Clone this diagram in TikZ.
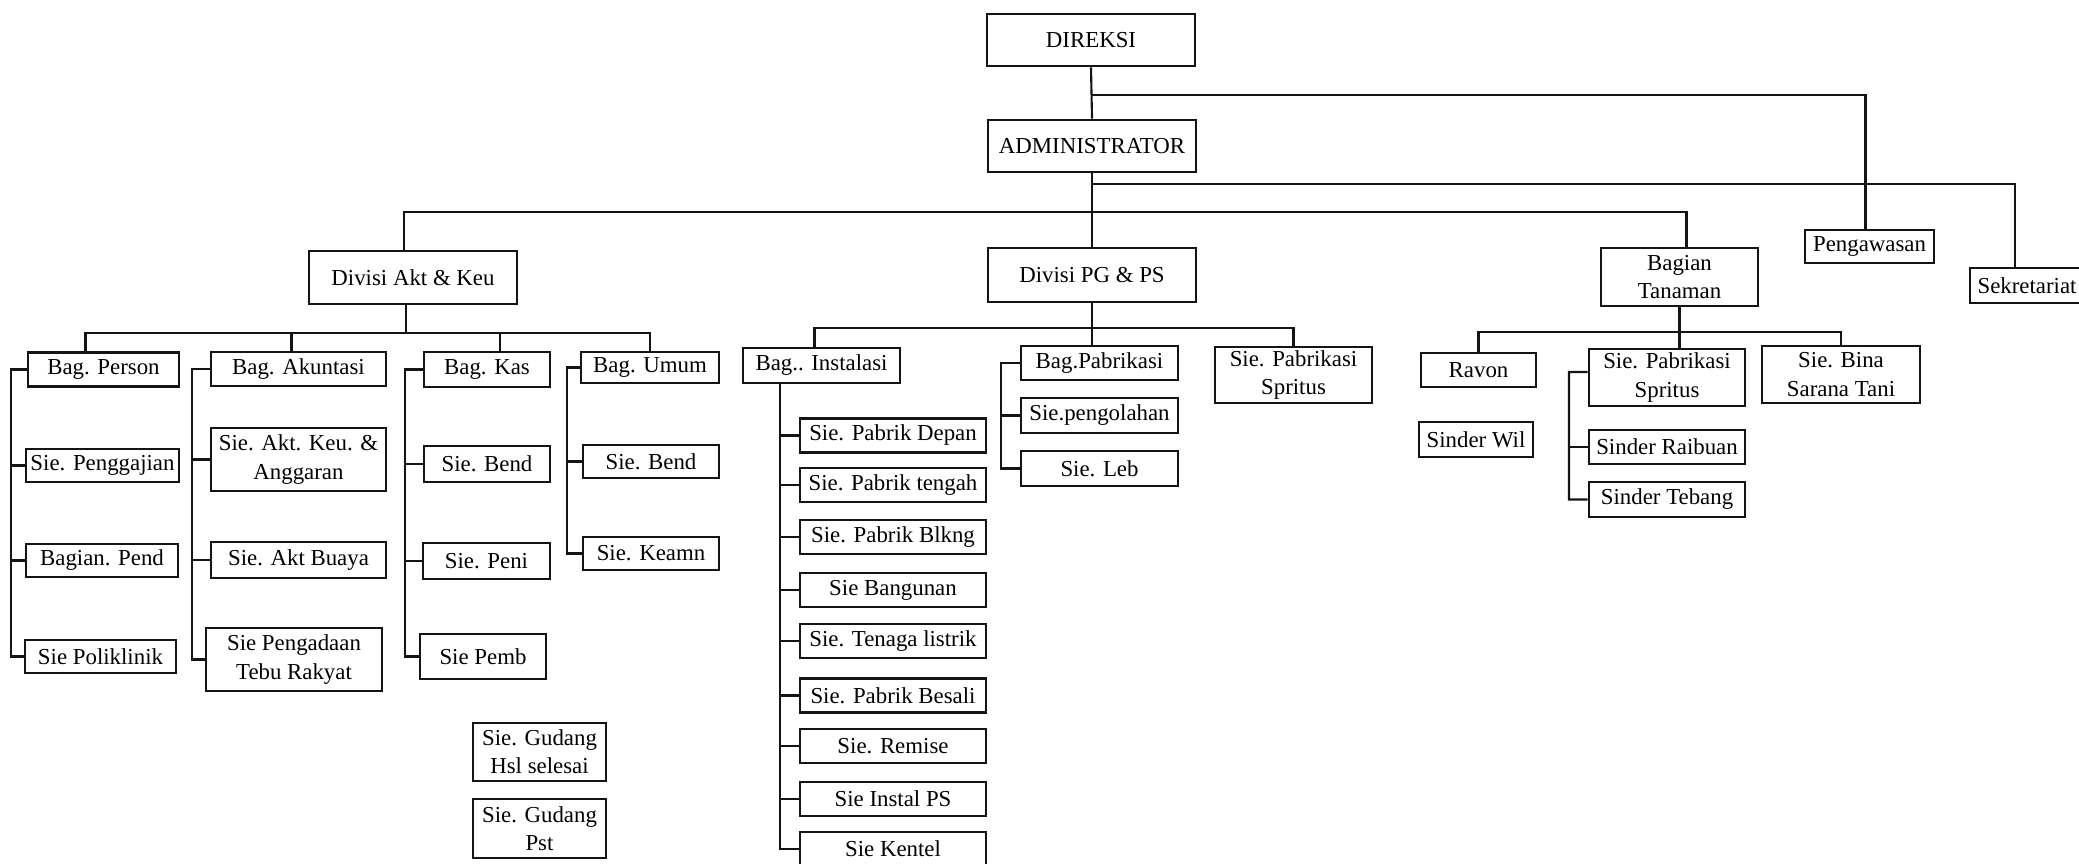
\documentclass[tikz,border=0pt]{standalone}
\usepackage{fontspec}
\setmainfont{Liberation Serif}
\definecolor{OrgInk}{HTML}{141414}

\begin{document}
\begin{tikzpicture}[x=1cm,y=1cm,
  unit/.style={draw=OrgInk,line width=.8pt,inner sep=0pt,align=center,minimum height=.34cm,font=\fontsize{6.5}{8}\selectfont},
  link/.style={draw=OrgInk,line width=.6pt}]
\path[use as bounding box] (0,0) rectangle (20.79,8.63);
\fill[white] (0,0) rectangle (20.79,8.63);
\node[unit,minimum width=2.08cm,minimum height=.52cm] (direksi) at (10.91,8.23) {DIREKSI};
\node[unit,minimum width=2.08cm,minimum height=.52cm] (admin) at (10.92,7.17) {ADMINISTRATOR};
\node[unit,minimum width=2.08cm,minimum height=.53cm] (akt) at (4.13,5.855) {Divisi Akt \& Keu};
\node[unit,minimum width=2.08cm,minimum height=.54cm] (pgps) at (10.92,5.88) {Divisi PG \& PS};
\node[unit,minimum width=1.57cm,minimum height=.58cm] (tanaman) at (16.795,5.86) {Bagian\\Tanaman};
\node[unit,minimum width=1.29cm,minimum height=.33cm] (awas) at (18.695,6.165) {Pengawasan};
\node[unit,minimum width=1.14cm,minimum height=.35cm] (sekr) at (20.27,5.775) {Sekretariat};
\draw[link] (direksi.south) -- (admin.north);
\coordinate (jAwas) at (10.91,7.68);
\draw[link] (jAwas) -| ([xshift=-.04cm]awas.north);
\draw[link] (admin.south) -- (pgps.north);
\coordinate (jSekr) at (10.92,6.79);
\draw[link] (jSekr) -| ([xshift=-.12cm]sekr.north);
\coordinate (jMain) at (10.92,6.51);
\draw[link] ([xshift=-.09cm]akt.north) |- (jMain) -| ([xshift=.07cm]tanaman.north);
\node[unit,minimum width=1.51cm] (person) at (1.035,4.935) {Bag. Person};
\node[unit,minimum width=1.75cm] (akun) at (2.985,4.94) {Bag. Akuntasi};
\node[unit,minimum width=1.26cm,minimum height=.35cm] (kas) at (4.87,4.935) {Bag. Kas};
\node[unit,minimum width=1.38cm,minimum height=.31cm] (umum) at (6.50,4.955) {Bag. Umum};
\coordinate (jAkt) at (4.06,5.30);
\draw[link] (akt.south -| jAkt) -- (jAkt);
\draw[link] ([xshift=-.18cm]person.north) |- (jAkt) -| (umum.north);
\draw[link] ([xshift=-.07cm]akun.north) -- ([xshift=-.07cm]akun.north |- jAkt);
\draw[link] ([xshift=.13cm]kas.north) -- ([xshift=.13cm]kas.north |- jAkt);
\node[unit,minimum width=1.53cm,minimum height=.33cm] (gaji) at (1.025,3.975) {Sie. Penggajian};
\node[unit,minimum width=1.52cm,minimum height=.33cm] (pend) at (1.02,3.025) {Bagian. Pend};
\node[unit,minimum width=1.51cm,minimum height=.33cm] (poli) at (1.005,2.065) {Sie Poliklinik};
\coordinate (spPerson) at (0.11,4.935);
\draw[link] (person.west) -- (spPerson) |- (poli.west);
\foreach \n in {gaji,pend} \draw[link] (spPerson |- \n.west) -- (\n.west);
\node[unit,minimum width=1.75cm,minimum height=.63cm] (aktkeu) at (2.985,4.035) {Sie. Akt. Keu. \&\\Anggaran};
\node[unit,minimum width=1.75cm,minimum height=.36cm] (buaya) at (2.985,3.03) {Sie. Akt Buaya};
\node[unit,minimum width=1.76cm,minimum height=.63cm] (tebu) at (2.94,2.035) {Sie Pengadaan\\Tebu Rakyat};
\coordinate (spAkun) at (1.92,4.94);
\draw[link] (akun.west) -- (spAkun) |- (tebu.west);
\foreach \n in {aktkeu,buaya} \draw[link] (spAkun |- \n.west) -- (\n.west);
\node[unit,minimum width=1.26cm,minimum height=.36cm] (bend) at (4.87,3.99) {Sie. Bend};
\node[unit,minimum width=1.27cm,minimum height=.36cm] (peni) at (4.865,3.02) {Sie. Peni};
\node[unit,minimum width=1.26cm,minimum height=.45cm] (pemb) at (4.83,2.065) {Sie Pemb};
\coordinate (spKas) at (4.05,4.935);
\draw[link] (kas.west) -- (spKas) |- (pemb.west);
\foreach \n in {bend,peni} \draw[link] (spKas |- \n.west) -- (\n.west);
\node[unit,minimum width=1.36cm,minimum height=.33cm] (bendum) at (6.51,4.015) {Sie. Bend};
\node[unit,minimum width=1.36cm,minimum height=.33cm] (keamn) at (6.51,3.095) {Sie. Keamn};
\coordinate (spUmum) at (5.67,4.955);
\draw[link] (umum.west) -- (spUmum) |- (keamn.west);
\draw[link] (spUmum |- bendum.west) -- (bendum.west);
\node[unit,minimum width=1.33cm,minimum height=.58cm] (hsl) at (5.395,1.11) {Sie. Gudang\\Hsl selesai};
\node[unit,minimum width=1.33cm,minimum height=.59cm] (pst) at (5.395,0.345) {Sie. Gudang\\Pst};
\node[unit,minimum width=1.57cm,minimum height=.35cm] (inst) at (8.215,4.975) {Bag.. Instalasi};
\node[unit,minimum width=1.57cm] (bagpab) at (10.995,5.00) {Bag.Pabrikasi};
\node[unit,minimum width=1.57cm,minimum height=.56cm] (spritusa) at (12.935,4.88) {Sie. Pabrikasi\\Spritus};
\coordinate (jPg) at (10.92,5.35);
\draw[link] (pgps.south) -- (pgps.south |- bagpab.north);
\draw[link] ([xshift=-.07cm]inst.north) |- (jPg) -| (spritusa.north);
\node[unit,minimum width=1.57cm,minimum height=.35cm] (olah) at (10.995,4.475) {Sie.pengolahan};
\node[unit,minimum width=1.57cm,minimum height=.35cm] (leb) at (10.995,3.945) {Sie. Leb};
\coordinate (spPab) at (10.01,5.00);
\draw[link] (bagpab.west) -- (spPab) |- (leb.west);
\draw[link] (spPab |- olah.west) -- (olah.west);
\node[unit,minimum width=1.86cm] (depan) at (8.93,4.275) {Sie. Pabrik Depan};
\node[unit,minimum width=1.86cm] (tengah) at (8.93,3.78) {Sie. Pabrik tengah};
\node[unit,minimum width=1.86cm] (blkng) at (8.93,3.26) {Sie. Pabrik Blkng};
\node[unit,minimum width=1.86cm] (bangun) at (8.93,2.73) {Sie Bangunan};
\node[unit,minimum width=1.86cm] (listrik) at (8.93,2.22) {Sie. Tenaga listrik};
\node[unit,minimum width=1.86cm] (besali) at (8.93,1.675) {Sie. Pabrik Besali};
\node[unit,minimum width=1.86cm] (remise) at (8.93,1.17) {Sie. Remise};
\node[unit,minimum width=1.86cm] (instps) at (8.93,0.64) {Sie Instal PS};
\node[unit,minimum width=1.86cm] (kentel) at (8.93,0.14) {Sie Kentel};
\coordinate (spInst) at (7.80,4.80);
\draw[link] (spInst |- inst.south) |- (kentel.west);
\foreach \n in {depan,tengah,blkng,bangun,listrik,besali,remise,instps} \draw[link] (spInst |- \n.west) -- (\n.west);
\node[unit,minimum width=1.15cm] (ravon) at (14.785,4.93) {Ravon};
\node[unit,minimum width=1.56cm,minimum height=.57cm] (spritusb) at (16.67,4.855) {Sie. Pabrikasi\\Spritus};
\node[unit,minimum width=1.58cm,minimum height=.57cm] (bina) at (18.41,4.885) {Sie. Bina\\Sarana Tani};
\node[unit,minimum width=1.14cm,minimum height=.35cm] (wil) at (14.76,4.235) {Sinder Wil};
\coordinate (jTan) at (16.795,5.31);
\draw[link] (tanaman.south) -- (tanaman.south |- spritusb.north);
\draw[link] (ravon.north) |- (jTan) -| (bina.north);
\node[unit,minimum width=1.56cm] (raibuan) at (16.67,4.16) {Sinder Raibuan};
\node[unit,minimum width=1.56cm,minimum height=.35cm] (tebang) at (16.67,3.635) {Sinder Tebang};
\coordinate (spTan) at (15.69,4.91);
\draw[link] ([yshift=.055cm]spritusb.west) -- (spTan) |- (tebang.west);
\draw[link] (spTan |- raibuan.west) -- (raibuan.west);
\end{tikzpicture}
\end{document}
